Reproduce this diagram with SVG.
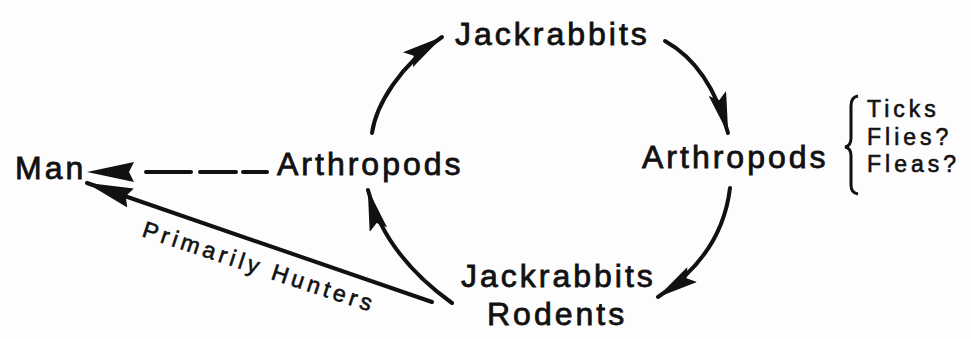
<svg xmlns="http://www.w3.org/2000/svg" width="971" height="339" viewBox="0 0 971 339">
<style>
.t{font-family:"Liberation Sans",Arial,sans-serif;font-size:32px;letter-spacing:3px;fill:#111;stroke:#111;stroke-width:0.8px;}
.s{font-family:"Liberation Sans",Arial,sans-serif;font-size:23px;letter-spacing:4px;fill:#111;stroke:#111;stroke-width:0.6px;}
.l{font-family:"Liberation Sans",Arial,sans-serif;font-size:23px;letter-spacing:4px;fill:#111;stroke:#111;stroke-width:0.6px;}
.c{fill:none;stroke:#111;stroke-width:4;stroke-linecap:round;}
</style>
<defs>
<marker id="ah" viewBox="0 0 42 18" markerWidth="42" markerHeight="18" refX="41" refY="9" orient="auto" markerUnits="userSpaceOnUse">
<path d="M0,0 L42,9 L0,18 L7,9 Z" fill="#111"/>
</marker>
<marker id="ahw" viewBox="0 0 47 20" markerWidth="47" markerHeight="20" refX="46" refY="10" orient="auto" markerUnits="userSpaceOnUse">
<path d="M0,0 L47,10 L0,20 L5,10 Z" fill="#111"/>
</marker>
</defs>
<rect width="971" height="339" fill="#fdfdfd"/>
<g id="connectors">
<path class="c" d="M372,133 C376,105 400,65 442,37" marker-end="url(#ah)"/>
<path class="c" d="M665,41 Q710,66 728,133" marker-end="url(#ah)"/>
<path class="c" d="M730,188 Q722,255 658,297" marker-end="url(#ah)"/>
<path class="c" d="M452,303 Q385,255 368,190" marker-end="url(#ah)"/>
<path class="c" d="M432,302 L87,183" marker-end="url(#ahw)"/>
<path class="c" d="M267,172 L88,172" stroke-dasharray="24 7 36 9 45 200" stroke-linecap="butt" marker-end="url(#ahw)"/>
</g>
<g id="man"><text class="t" x="15" y="179">Man</text></g>
<g id="arthropods-left"><text class="t" x="277" y="175">Arthropods</text></g>
<g id="jackrabbits-top"><text class="t" x="455" y="45">Jackrabbits</text></g>
<g id="arthropods-right"><text class="t" x="642" y="168">Arthropods</text></g>
<g id="jackrabbits-rodents"><text class="t" x="461" y="287">Jackrabbits</text><text class="t" x="487" y="325">Rodents</text></g>
<g id="vectors">
<path d="M858,96 Q851,97 851,106 L851,138 Q851,146 845,147 Q851,148 851,156 L851,185 Q851,193 858,194" fill="none" stroke="#111" stroke-width="3"/>
<text class="s" x="867" y="117">Ticks</text>
<text class="s" x="867" y="145">Flies?</text>
<text class="s" x="867" y="172">Fleas?</text>
</g>
<g id="label-hunters"><text class="l" transform="translate(141,236) rotate(18.3)">Primarily Hunters</text></g>
</svg>
